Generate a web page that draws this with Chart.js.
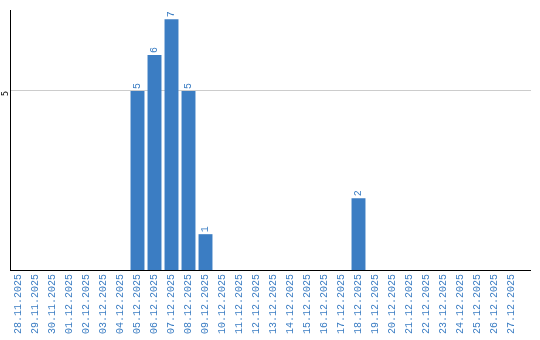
<!DOCTYPE html>
<html>
<head>
<meta charset="utf-8">
<script src="https://cdn.jsdelivr.net/npm/chart.js@4"></script>
<style>
  html, body { margin: 0; padding: 0; background: #fff; }
  #wrap { width: 540px; height: 340px; }
</style>
</head>
<body>
<div id="wrap"><canvas id="grafico"></canvas></div>
<script>
const dias = [
  '28.11.2025', '29.11.2025', '30.11.2025', '01.12.2025', '02.12.2025', '03.12.2025',
  '04.12.2025', '05.12.2025', '06.12.2025', '07.12.2025', '08.12.2025', '09.12.2025',
  '10.12.2025', '11.12.2025', '12.12.2025', '13.12.2025', '14.12.2025', '15.12.2025',
  '16.12.2025', '17.12.2025', '18.12.2025', '19.12.2025', '20.12.2025', '21.12.2025',
  '22.12.2025', '23.12.2025', '24.12.2025', '25.12.2025', '26.12.2025', '27.12.2025'
];
const valores = [
  0, 0, 0, 0, 0, 0,
  0, 5, 6, 7, 5, 1,
  0, 0, 0, 0, 0, 0,
  0, 0, 2, 0, 0, 0,
  0, 0, 0, 0, 0, 0
];
const ticksY = [5];

const azul = '#3b7dc3';
const fonteMono = 'Liberation Mono';

function alinhar(px) {
  return Math.round(px - 0.5) + 0.5;
}

// numeros em cima das barras (girados) + linhas esticadas ate a borda
const rotulosBarras = {
  id: 'rotulosBarras',
  beforeDatasetsDraw(chart) {
    const ctx = chart.ctx;
    const area = chart.chartArea;
    const y5 = alinhar(chart.scales.y.getPixelForValue(5));
    ctx.save();
    ctx.strokeStyle = '#cccccc';
    ctx.lineWidth = 1;
    ctx.beginPath();
    ctx.moveTo(area.right - 1, y5);
    ctx.lineTo(531, y5);
    ctx.stroke();
    ctx.restore();
  },
  afterDatasetsDraw(chart) {
    const ctx = chart.ctx;
    const meta = chart.getDatasetMeta(0);
    ctx.save();
    ctx.fillStyle = azul;
    ctx.font = '10px ' + fonteMono;
    ctx.textAlign = 'left';
    ctx.textBaseline = 'middle';
    meta.data.forEach((bar, i) => {
      if (!valores[i]) return;
      ctx.save();
      ctx.translate(bar.x, bar.y - 2);
      ctx.rotate(-Math.PI / 2);
      ctx.fillText(String(valores[i]), 0, 0);
      ctx.restore();
    });
    ctx.restore();
  },
  afterDraw(chart) {
    const ctx = chart.ctx;
    const area = chart.chartArea;
    const yb = alinhar(area.bottom);
    ctx.save();
    ctx.strokeStyle = '#000';
    ctx.lineWidth = 1;
    ctx.beginPath();
    ctx.moveTo(area.right - 1, yb);
    ctx.lineTo(531, yb);
    ctx.stroke();
    ctx.restore();
  }
};

const ctx = document.getElementById('grafico').getContext('2d');
const grafico = new Chart(ctx, {
  type: 'bar',
  data: {
    labels: dias,
    datasets: [{
      data: valores,
      backgroundColor: azul,
      borderWidth: 0,
      barPercentage: 0.82,
      categoryPercentage: 1
    }]
  },
  options: {
    responsive: true,
    maintainAspectRatio: false,
    animation: false,
    layout: { padding: { top: 10, right: 20, left: 0, bottom: 0 } },
    plugins: {
      legend: { display: false },
      tooltip: { enabled: false }
    },
    scales: {
      x: {
        grid: { display: false, drawTicks: false },
        border: { display: true, color: '#000', width: 1 },
        ticks: {
          color: azul,
          font: { family: fonteMono, size: 10 },
          minRotation: 90,
          maxRotation: 90,
          autoSkip: false,
          padding: 4
        },
        afterFit(scale) { scale.height = 70; }
      },
      y: {
        min: 0,
        max: 7.26,
        grid: { color: '#cccccc', drawTicks: false },
        border: { display: true, color: '#000', width: 1 },
        ticks: {
          color: '#000',
          font: { family: 'DejaVu Sans', size: 8 },
          minRotation: 90,
          maxRotation: 90,
          padding: 4
        },
        afterBuildTicks(scale) {
          scale.ticks = ticksY.map(v => ({ value: v }));
        },
        afterFit(scale) { scale.width = 10; }
      }
    }
  },
  plugins: [rotulosBarras]
});
</script>
</body>
</html>
